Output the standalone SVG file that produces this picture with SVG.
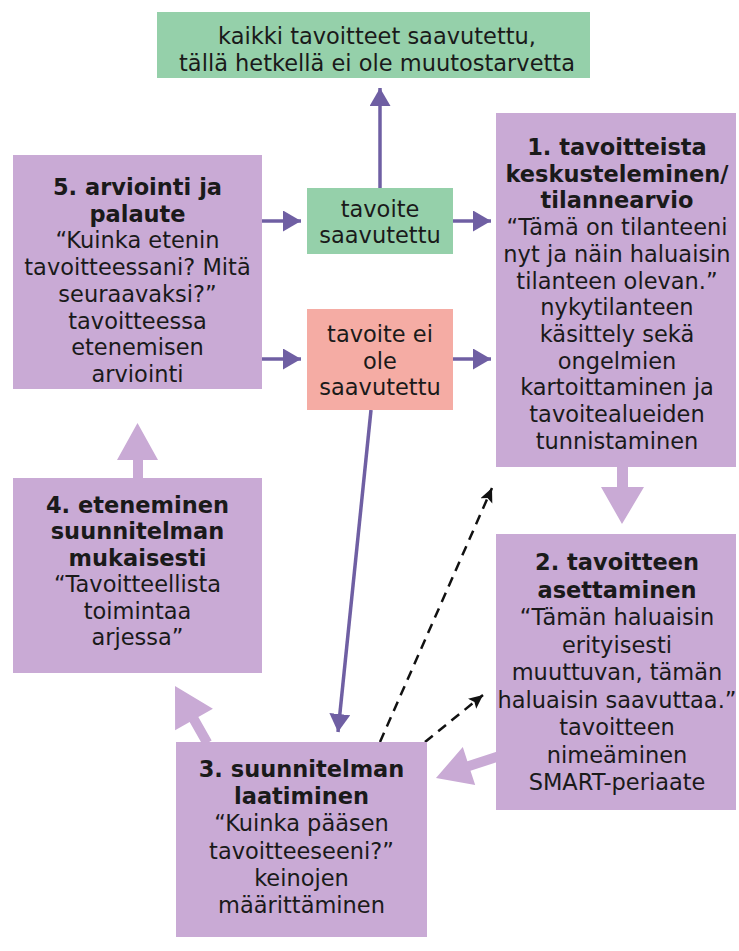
<svg xmlns="http://www.w3.org/2000/svg" width="739" height="951" viewBox="0 0 739 951">
<style>
.lil{fill:#c9aad5}
.grn{fill:#95d0aa}
.red{fill:#f5aca4}
text{font-family:"DejaVu Sans","Noto Sans",sans-serif;font-size:22.5px;fill:#1a1a1a;text-anchor:middle}
.b{font-weight:bold}
.pl{stroke:#6f5fa3;stroke-width:3.5;fill:none}
.dl{stroke:#111;stroke-width:2.5;stroke-dasharray:10 7;fill:none}
</style>
<defs>
<marker id="pa" markerUnits="userSpaceOnUse" markerWidth="19" markerHeight="22" refX="18" refY="10.5" orient="auto" viewBox="0 0 19 22">
<path d="M0,0 L18,10.5 L0,21 z" fill="#6f5fa3"/>
</marker>
<marker id="da" markerUnits="userSpaceOnUse" markerWidth="15" markerHeight="14" refX="14" refY="6.5" orient="auto" viewBox="0 0 15 14">
<path d="M0,0 L14,6.5 L0,13 L3,6.5 z" fill="#111"/>
</marker>
</defs>
<rect width="739" height="951" fill="#fff"/>
<g id="connectors">
<polygon class="lil" points="133,480 133,460 117,460 137.5,423 158,460 143,460 143,480"/>
<polygon class="lil" points="617,465 617,487 601,487 622,524 644,487 628,487 628,465"/>
<polygon class="lil" points="496.5,751.8 467.4,761.25 462.8,747 436,778 475.2,785 470.5,770.75 499.5,761.3"/>
<polygon class="lil" points="202.95,745.5 189.65,721.97 175.1,730.2 175,686 212.9,708.8 198.35,717.03 211.65,740.5"/>
<line class="pl" x1="380" y1="188" x2="380" y2="88" marker-end="url(#pa)"/>
<line class="pl" x1="262" y1="221" x2="301" y2="221" marker-end="url(#pa)"/>
<line class="pl" x1="453" y1="221" x2="491" y2="221" marker-end="url(#pa)"/>
<line class="pl" x1="262" y1="359" x2="301" y2="359" marker-end="url(#pa)"/>
<line class="pl" x1="453" y1="359" x2="491" y2="359" marker-end="url(#pa)"/>
<line class="pl" x1="371" y1="410" x2="338" y2="732" marker-end="url(#pa)"/>
<line class="dl" x1="380" y1="742" x2="492" y2="488" marker-end="url(#da)"/>
<line class="dl" x1="425" y1="742" x2="483" y2="695" marker-end="url(#da)"/>
</g>
<g id="top">
<rect class="grn" x="157" y="12" width="433" height="66"/>
<text x="377" y="44">kaikki tavoitteet saavutettu,</text>
<text x="377" y="70.5">tällä hetkellä ei ole muutostarvetta</text>
</g>
<g id="step5">
<rect class="lil" x="13" y="155" width="249" height="234"/>
<text class="b" x="137.5" y="195">5. arviointi ja</text>
<text class="b" x="137.5" y="221.7">palaute</text>
<text x="137.5" y="248.4">“Kuinka etenin</text>
<text x="137.5" y="275.1">tavoitteessani? Mitä</text>
<text x="137.5" y="301.8">seuraavaksi?”</text>
<text x="137.5" y="328.5">tavoitteessa</text>
<text x="137.5" y="355.2">etenemisen</text>
<text x="137.5" y="381.9">arviointi</text>
</g>
<g id="reached">
<rect class="grn" x="307" y="188" width="146" height="66"/>
<text x="380" y="216.5">tavoite</text>
<text x="380" y="243">saavutettu</text>
</g>
<g id="notreached">
<rect class="red" x="307" y="309" width="146" height="101"/>
<text x="380" y="342">tavoite ei</text>
<text x="380" y="368.5">ole</text>
<text x="380" y="395">saavutettu</text>
</g>
<g id="step1">
<rect class="lil" x="496" y="113" width="240" height="354"/>
<text class="b" x="617" y="155">1. tavoitteista</text>
<text class="b" x="617" y="181.7">keskusteleminen/</text>
<text class="b" x="617" y="208.4">tilannearvio</text>
<text x="617" y="235.1">“Tämä on tilanteeni</text>
<text x="617" y="261.8">nyt ja näin haluaisin</text>
<text x="617" y="288.5">tilanteen olevan.”</text>
<text x="617" y="315.2">nykytilanteen</text>
<text x="617" y="341.9">käsittely sekä</text>
<text x="617" y="368.6">ongelmien</text>
<text x="617" y="395.3">kartoittaminen ja</text>
<text x="617" y="422">tavoitealueiden</text>
<text x="617" y="448.7">tunnistaminen</text>
</g>
<g id="step4">
<rect class="lil" x="13" y="478" width="249" height="195"/>
<text class="b" x="137.5" y="513">4. eteneminen</text>
<text class="b" x="137.5" y="539.4">suunnitelman</text>
<text class="b" x="137.5" y="565.8">mukaisesti</text>
<text x="137.5" y="592.2">“Tavoitteellista</text>
<text x="137.5" y="618.6">toimintaa</text>
<text x="137.5" y="645">arjessa”</text>
</g>
<g id="step2">
<rect class="lil" x="496" y="534" width="240" height="276"/>
<text class="b" x="617" y="570">2. tavoitteen</text>
<text class="b" x="617" y="597.5">asettaminen</text>
<text x="617" y="625">“Tämän haluaisin</text>
<text x="617" y="652.5">erityisesti</text>
<text x="617" y="680">muuttuvan, tämän</text>
<text x="617" y="707.5">haluaisin saavuttaa.”</text>
<text x="617" y="735">tavoitteen</text>
<text x="617" y="762.5">nimeäminen</text>
<text x="617" y="790">SMART-periaate</text>
</g>
<g id="step3">
<rect class="lil" x="176" y="742" width="251" height="195"/>
<text class="b" x="301.5" y="777">3. suunnitelman</text>
<text class="b" x="301.5" y="804.2">laatiminen</text>
<text x="301.5" y="831.4">“Kuinka pääsen</text>
<text x="301.5" y="858.6">tavoitteeseeni?”</text>
<text x="301.5" y="885.8">keinojen</text>
<text x="301.5" y="913">määrittäminen</text>
</g>
</svg>
